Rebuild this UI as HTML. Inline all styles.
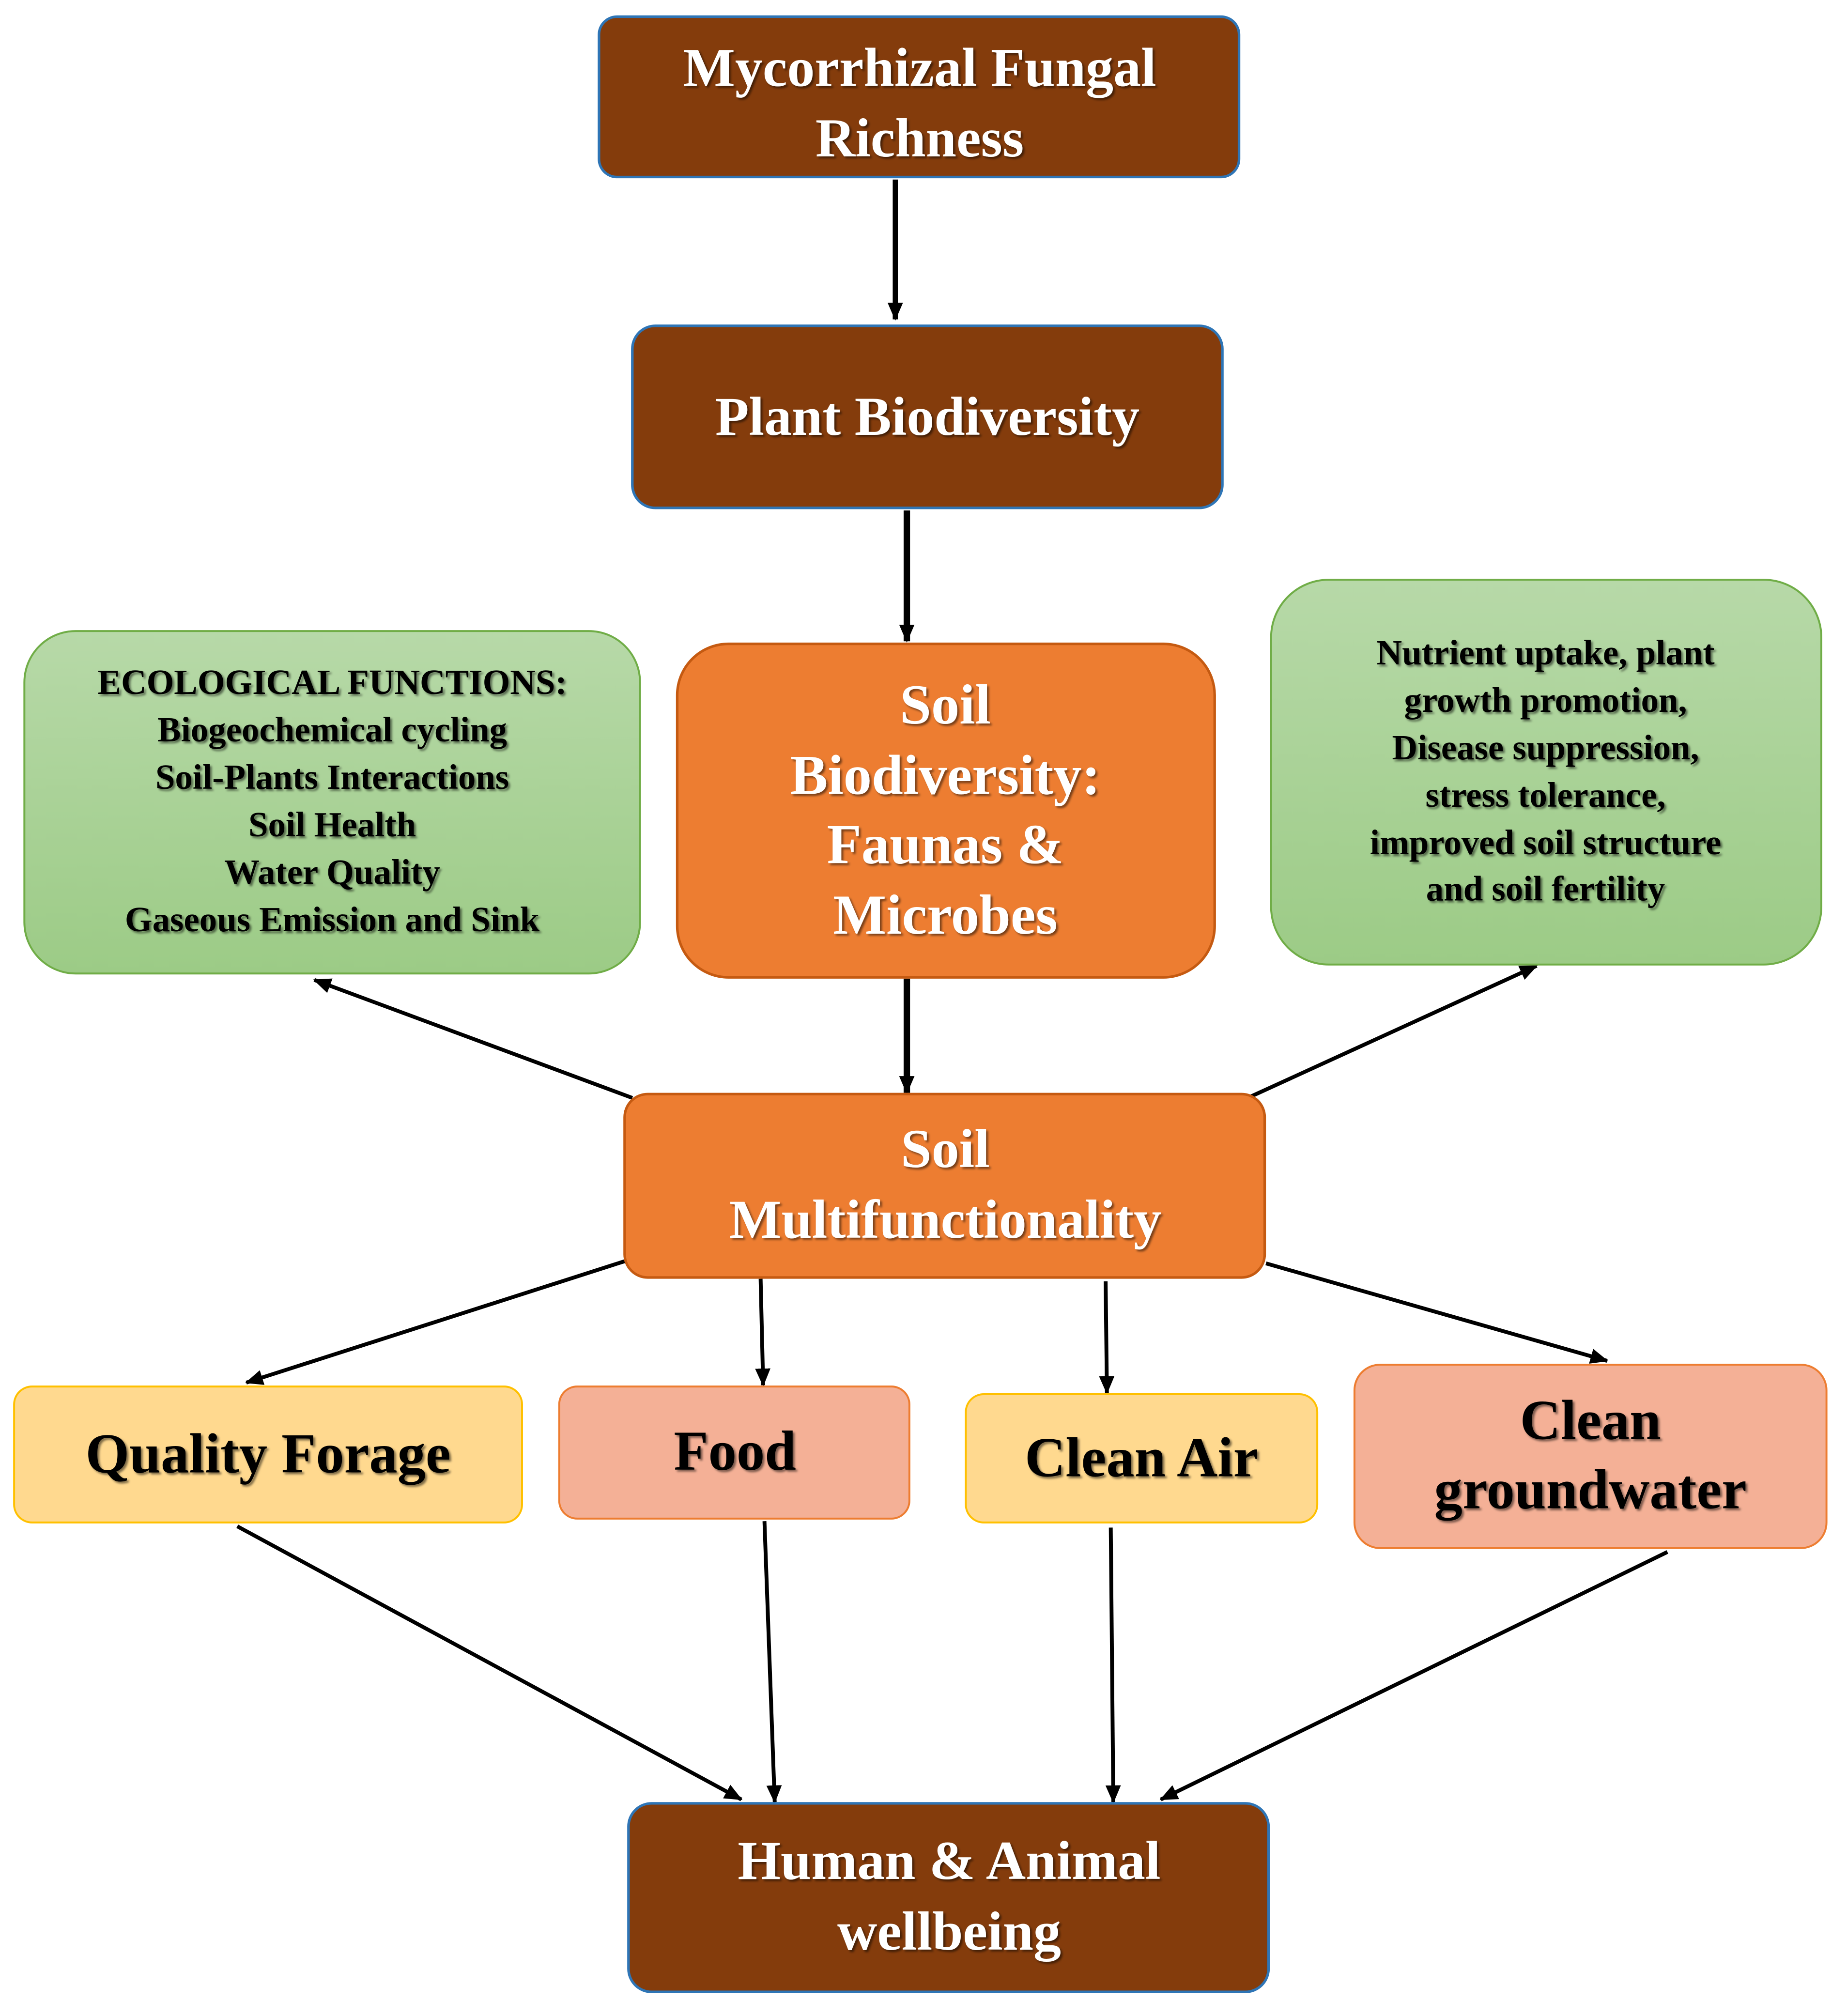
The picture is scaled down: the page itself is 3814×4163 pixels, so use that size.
<!DOCTYPE html>
<html><head><meta charset="utf-8"><style>
html,body{margin:0;padding:0;background:#fff;}
svg{display:block;}
text{font-family:"Liberation Serif",serif;font-weight:bold;text-anchor:middle;}
</style></head><body>
<svg width="3814" height="4163" viewBox="0 0 1440 1571.8" preserveAspectRatio="none" xmlns="http://www.w3.org/2000/svg">
<defs>
<linearGradient id="g" x1="0" y1="0" x2="0" y2="1"><stop offset="0" stop-color="#B7D9A8"/><stop offset="1" stop-color="#9CCB86"/></linearGradient>
<marker id="a" markerWidth="8" markerHeight="8" refX="7" refY="4" orient="auto" markerUnits="userSpaceOnUse" viewBox="0 0 8 8"><path d="M0,0 L8,4 L0,8 z" fill="#000"/></marker>
<marker id="b" markerWidth="14" markerHeight="12" refX="13" refY="6" orient="auto" markerUnits="userSpaceOnUse" viewBox="0 0 14 12"><path d="M0,0 L14,6 L0,12 z" fill="#000"/></marker>
<filter id="s" x="-5%" y="-5%" width="110%" height="120%"><feDropShadow dx="1.5" dy="1.5" stdDeviation="0.8" flood-color="#000" flood-opacity="0.5"/></filter>
</defs>
<g stroke="#000" stroke-width="3" fill="none">
<line x1="698" y1="140" x2="698" y2="249" stroke-width="4" marker-end="url(#b)"/>
<line x1="707" y1="398" x2="707" y2="500" stroke-width="5" marker-end="url(#b)"/>
<line x1="707" y1="763" x2="707" y2="852" stroke-width="5" marker-end="url(#b)"/>
<line x1="493" y1="856" x2="245" y2="764" marker-end="url(#b)"/>
<line x1="975" y1="855" x2="1198" y2="753" marker-end="url(#b)"/>
<line x1="488" y1="983" x2="192" y2="1078" marker-end="url(#b)"/>
<line x1="593" y1="997" x2="595" y2="1080" marker-end="url(#b)"/>
<line x1="862" y1="999" x2="863" y2="1086" marker-end="url(#b)"/>
<line x1="987" y1="985" x2="1253" y2="1061" marker-end="url(#b)"/>
<line x1="185" y1="1190" x2="578" y2="1403" marker-end="url(#b)"/>
<line x1="596" y1="1186" x2="604" y2="1405" marker-end="url(#b)"/>
<line x1="866" y1="1191" x2="868" y2="1405" marker-end="url(#b)"/>
<line x1="1300" y1="1210" x2="905" y2="1403" marker-end="url(#b)"/>
</g>
<rect x="467" y="13" width="499" height="125" rx="14" fill="#843C0C" stroke="#2E75B6" stroke-width="2"/>
<rect x="493" y="254" width="460" height="142" rx="18" fill="#843C0C" stroke="#2E75B6" stroke-width="2"/>
<rect x="528" y="502" width="419" height="260" rx="40" fill="#ED7D31" stroke="#C55A11" stroke-width="2"/>
<rect x="19" y="492" width="480" height="267" rx="40" fill="url(#g)" stroke="#70AD47" stroke-width="1.5"/>
<rect x="991" y="452" width="429" height="300" rx="45" fill="url(#g)" stroke="#70AD47" stroke-width="1.5"/>
<rect x="487" y="853" width="499" height="143" rx="18" fill="#ED7D31" stroke="#C55A11" stroke-width="2"/>
<rect x="11" y="1081" width="396" height="106" rx="14" fill="#FFD98F" stroke="#FFC000" stroke-width="1.5"/>
<rect x="436" y="1081" width="273" height="103" rx="14" fill="#F4B096" stroke="#ED7D31" stroke-width="1.5"/>
<rect x="753" y="1087" width="274" height="100" rx="14" fill="#FFD98F" stroke="#FFC000" stroke-width="1.5"/>
<rect x="1056" y="1064" width="368" height="143" rx="20" fill="#F4B096" stroke="#ED7D31" stroke-width="1.5"/>
<rect x="490" y="1406" width="499" height="147" rx="18" fill="#843C0C" stroke="#2E75B6" stroke-width="2"/>
<g fill="#fff" filter="url(#s)" font-size="43">
<text x="717" y="67">Mycorrhizal Fungal</text>
<text x="717" y="122">Richness</text>
<text x="723" y="339">Plant Biodiversity</text>
<text x="737" y="564" font-size="44">Soil</text>
<text x="737" y="619" font-size="44">Biodiversity:</text>
<text x="737" y="673" font-size="44">Faunas &amp;</text>
<text x="737" y="728" font-size="44">Microbes</text>
<text x="737" y="910">Soil</text>
<text x="737" y="965">Multifunctionality</text>
<text x="740" y="1465">Human &amp; Animal</text>
<text x="740" y="1520">wellbeing</text>
</g>
<g fill="#000" filter="url(#s)" font-size="27.5">
<text x="259" y="541">ECOLOGICAL FUNCTIONS:</text>
<text x="259" y="578">Biogeochemical cycling</text>
<text x="259" y="615">Soil-Plants Interactions</text>
<text x="259" y="652">Soil Health</text>
<text x="259" y="689">Water Quality</text>
<text x="259" y="726">Gaseous Emission and Sink</text>
<text x="1205" y="518">Nutrient uptake, plant</text>
<text x="1205" y="555">growth promotion,</text>
<text x="1205" y="592">Disease suppression,</text>
<text x="1205" y="629">stress tolerance,</text>
<text x="1205" y="666">improved soil structure</text>
<text x="1205" y="702">and soil fertility</text>
</g>
<g fill="#000" filter="url(#s)" font-size="44">
<text x="209" y="1148">Quality Forage</text>
<text x="573" y="1146">Food</text>
<text x="890" y="1151">Clean Air</text>
<text x="1240" y="1122">Clean</text>
<text x="1240" y="1176">groundwater</text>
</g>
</svg>
</body></html>
